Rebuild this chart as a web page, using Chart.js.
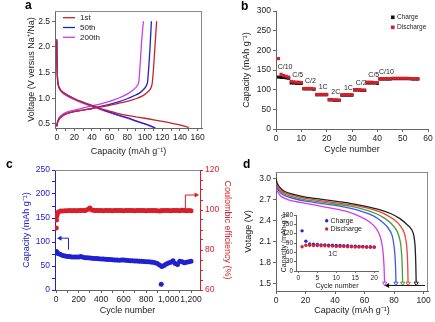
<!DOCTYPE html>
<html>
<head>
<meta charset="utf-8">
<script src="https://cdn.jsdelivr.net/npm/chart.js@4.4.1/dist/chart.umd.min.js"></script>
<style>
  body { margin: 0; width: 435px; height: 322px; background: #fff; position: relative; overflow: hidden; font-family: "Liberation Sans", Arial, sans-serif; }
  canvas { position: absolute; }
  .tag { position: absolute; font-weight: bold; font-size: 12px; line-height: 12px; color: #000; }
</style>
</head>
<body>
<canvas id="chartA" width="215" height="160" style="left:0;top:0"></canvas>
<canvas id="chartB" width="220" height="160" style="left:215px;top:0"></canvas>
<canvas id="chartC" width="240" height="162" style="left:0;top:160px"></canvas>
<canvas id="chartD" width="205" height="162" style="left:230px;top:160px"></canvas>
<canvas id="chartInset" width="115" height="90" style="left:270px;top:205px"></canvas>
<div class="tag" style="left:25px;top:-1px">a</div>
<div class="tag" style="left:241px;top:0px">b</div>
<div class="tag" style="left:6px;top:158px">c</div>
<div class="tag" style="left:243px;top:158px">d</div>
<script>
// ---- a: voltage profiles (capacity, voltage) ----
const aCapDis1 = [0, 0.3, 0.8, 1.5, 3, 6, 12, 20, 30, 40, 50, 60, 70, 80, 90, 100, 110, 120, 130, 140, 150];
const aVDis1   = [2.15, 1.7, 1.4, 1.28, 1.2, 1.13, 1.06, 0.99, 0.92, 0.86, 0.8, 0.75, 0.7, 0.665, 0.635, 0.61, 0.58, 0.55, 0.515, 0.48, 0.43];
const aCapDis50 = [0, 0.3, 0.8, 1.5, 3, 6, 12, 20, 30, 40, 50, 60, 70, 80, 90, 100, 108, 112];
const aVDis50   = [2.12, 1.7, 1.4, 1.28, 1.2, 1.13, 1.06, 0.99, 0.92, 0.855, 0.79, 0.73, 0.67, 0.62, 0.56, 0.5, 0.45, 0.42];
const aCapDis200 = [0, 0.3, 0.8, 1.5, 3, 6, 12, 20, 30, 40, 50, 60, 70, 80, 90, 100, 106, 110];
const aVDis200   = [2.15, 1.7, 1.38, 1.26, 1.18, 1.11, 1.04, 0.97, 0.9, 0.84, 0.78, 0.72, 0.665, 0.61, 0.555, 0.5, 0.46, 0.43];
const aCapChg1 = [0, 0.5, 1.5, 3, 6, 10, 15, 20, 30, 40, 50, 60, 70, 80, 90, 98, 102, 105, 107, 108.5, 110, 111.5, 113.5];
const aVChg1   = [0.45, 0.5, 0.55, 0.6, 0.65, 0.69, 0.72, 0.74, 0.77, 0.8, 0.83, 0.86, 0.9, 0.94, 0.99, 1.05, 1.1, 1.15, 1.2, 1.3, 1.6, 2.0, 2.5];
const aCapChg50 = [0, 0.5, 1.5, 3, 6, 10, 15, 20, 30, 40, 50, 60, 70, 80, 88, 94, 98, 101, 103, 104.5, 106, 107.5];
const aVChg50   = [0.45, 0.5, 0.55, 0.6, 0.65, 0.69, 0.72, 0.74, 0.77, 0.8, 0.84, 0.88, 0.93, 0.99, 1.05, 1.1, 1.16, 1.22, 1.3, 1.6, 2.0, 2.5];
const aCapChg200 = [0, 0.5, 1.5, 3, 6, 10, 15, 20, 30, 40, 50, 60, 70, 80, 86, 90, 93, 94.5, 96, 97.3, 98.5];
const aVChg200   = [0.45, 0.52, 0.58, 0.63, 0.68, 0.72, 0.75, 0.77, 0.81, 0.85, 0.89, 0.94, 1.0, 1.08, 1.15, 1.21, 1.3, 1.6, 2.0, 2.3, 2.5];
const aLegend = ['1st', '50th', '200th'];
const aXTicks = [0, 20, 40, 60, 80, 100, 120, 140, 160];
const aYTicks = [0.5, 1.0, 1.5, 2.0, 2.5];

// ---- b: rate capability, cycles 1..56 ----
const bCharge = [132, 131, 131, 130, 129, 117, 117, 116, 116, 116, 102, 102, 102, 102, 101, 87, 87, 87, 87, 87,
  74, 74, 73, 73, 73, 86, 86, 86, 86, 86, 99, 99, 99, 98, 98, 117, 117, 117, 117, 116,
  127, 127, 127, 127, 127, 128, 128, 128, 128, 128, 128, 128, 128, 127, 127, 127];
const bDischarge = [179, 139, 136, 134, 132, 121, 120, 119, 119, 118, 103, 103, 103, 103, 102, 88, 88, 88, 88, 88,
  75, 75, 74, 74, 73, 87, 87, 87, 87, 87, 100, 100, 100, 99, 99, 119, 119, 119, 118, 118,
  128, 128, 128, 128, 128, 129, 129, 129, 129, 129, 129, 129, 128, 128, 128, 128];
const bRates = ['C/10', 'C/5', 'C/2', '1C', '2C', '1C', 'C/2', 'C/5', 'C/10'];
const bRateStart = [1, 6, 11, 16, 21, 26, 31, 36, 41];
const bXTicks = [0, 10, 20, 30, 40, 50, 60];
const bYTicks = [0, 50, 100, 150, 200, 250, 300];

// ---- c: long cycling ----
const cCycles = [1, 3, 6, 10, 20, 40, 60, 80, 100, 120, 140, 160, 180, 200, 220, 240, 260, 280, 300, 320, 340, 360, 380, 400,
  420, 440, 460, 480, 500, 520, 540, 560, 580, 600, 620, 640, 660, 680, 700, 720, 740, 760, 780, 800, 820, 840, 860, 880,
  900, 920, 935, 940, 960, 980, 1000, 1020, 1040, 1060, 1080, 1100, 1120, 1140, 1160, 1180, 1200];
const cCapacity = [80, 79, 78, 77, 76, 74, 72, 71, 70, 70, 69, 69, 68.5, 69, 70, 68, 67, 67, 66.5, 66, 65.5, 65.5, 65, 64.5,
  64.5, 64, 63.5, 63.5, 63, 62.5, 62.5, 62, 62.5, 62.5, 62, 61.5, 61, 61, 60.5, 60.5, 60, 60, 59.5, 59, 59, 58.5, 58, 57,
  55, 52, 12, 49, 51, 54, 56, 58, 61, 55, 53, 60, 59, 57, 58, 59, 60];
const cEfficiency = [91, 95, 97, 98, 99, 99.5, 99.5, 99.6, 99.6, 99.7, 99.6, 99.7, 99.6, 99.8, 99.7, 99.7, 99.8, 100.2, 101, 100, 99.7, 99.7, 99.8, 99.7,
  99.6, 99.7, 99.8, 99.7, 99.6, 99.7, 99.7, 99.8, 99.7, 99.6, 99.7, 99.8, 99.7, 99.7, 99.6, 99.7, 99.8, 99.7, 99.7, 99.6, 99.7, 99.8, 99.7, 99.7,
  99.6, 99.5, 99.6, 99.6, 99.7, 99.8, 99.7, 99.6, 99.7, 99.8, 99.7, 99.6, 99.9, 99.7, 99.6, 99.7, 99.6];
const cXTicks = [0, 200, 400, 600, 800, 1000, 1200];
const cYTicks = [0, 50, 100, 150, 200, 250];
const cY2Ticks = [60, 80, 100, 120];

// ---- d: discharge curves (capacity, voltage) ----
const dCap1 = [0, 1, 3, 6, 10, 20, 30, 40, 50, 60, 70, 78, 84, 88, 91, 93, 94.2, 94.7, 95];
const dV1   = [3.0, 2.93, 2.87, 2.82, 2.79, 2.74, 2.71, 2.68, 2.65, 2.61, 2.56, 2.5, 2.43, 2.36, 2.3, 2.22, 2.05, 1.8, 1.5];
const dCap2 = [0, 1, 3, 6, 10, 20, 30, 40, 50, 60, 70, 76, 81, 84.5, 87, 88.5, 89.2, 89.5];
const dV2   = [2.97, 2.9, 2.84, 2.8, 2.77, 2.72, 2.69, 2.66, 2.63, 2.59, 2.53, 2.47, 2.4, 2.32, 2.22, 2.05, 1.8, 1.5];
const dCap3 = [0, 1, 3, 6, 10, 20, 30, 40, 50, 60, 68, 74, 78.5, 82, 84.2, 85.2, 85.6, 85.8];
const dV3   = [2.95, 2.88, 2.82, 2.78, 2.75, 2.7, 2.67, 2.64, 2.61, 2.56, 2.5, 2.43, 2.35, 2.25, 2.1, 1.9, 1.7, 1.5];
const dCap4 = [0, 1, 3, 6, 10, 20, 30, 40, 50, 60, 66, 71, 75.5, 78.5, 80.2, 81, 81.3];
const dV4   = [2.93, 2.86, 2.8, 2.76, 2.73, 2.68, 2.65, 2.62, 2.58, 2.52, 2.47, 2.4, 2.31, 2.2, 2.0, 1.75, 1.5];
const dCap5 = [0, 1, 3, 6, 10, 20, 30, 40, 50, 57, 63, 67.5, 70.5, 72.3, 73.2, 73.6];
const dV5   = [2.9, 2.82, 2.76, 2.72, 2.69, 2.65, 2.61, 2.57, 2.52, 2.46, 2.39, 2.3, 2.18, 2.0, 1.75, 1.5];
const dXTicks = [0, 20, 40, 60, 80, 100];
const dYTicks = [1.5, 1.8, 2.1, 2.4, 2.7, 3.0];

// inset: cycles 1..20 at 1C
const insetCharge    = [129, 96, 87, 86, 85, 84, 84, 83, 83, 82, 82, 81, 81, 80, 80, 79, 79, 78, 78, 77];
const insetDischarge = [78, 83, 83, 82, 82, 81, 81, 80, 80, 79, 79, 79, 78, 78, 77, 77, 77, 76, 76, 76];
const insetXTicks = [0, 5, 10, 15, 20];
const insetYTicks = [0, 30, 60, 90, 120, 150, 180];

const FONT = '"Liberation Sans", Arial, sans-serif';
Chart.defaults.font.family = FONT;
Chart.defaults.color = '#222';
Chart.defaults.animation = false;
Chart.defaults.responsive = false;
Chart.defaults.plugins.legend.display = false;
Chart.defaults.plugins.tooltip.enabled = false;

const GRAY = '#8a8a8a';
const AXIS = '#666';

const xy = (xs, ys) => xs.map((x, i) => ({ x: x, y: ys[i] }));

function curve(xs, ys, color) {
    return { data: xy(xs, ys), borderColor: color, backgroundColor: color, borderWidth: 1.3,
        showLine: true, pointRadius: 0, tension: 0.2 };
}

function axis(o) {
    const major = o.ticks;
    const all = (o.minor ? major.concat(o.minor) : major.slice()).sort((p, q) => p - q);
    return {
        type: 'linear', position: o.pos, min: o.min, max: o.max,
        afterBuildTicks: s => { s.ticks = all.map(v => ({ value: v })); },
        afterFit: s => { if (s.isHorizontal()) s.height = o.size; else s.width = o.size; },
        border: { color: o.line || AXIS, width: 1 },
        grid: { drawOnChartArea: false, tickLength: o.tl || 3, color: o.line || AXIS },
        ticks: { color: o.text || '#222', padding: o.pad || 2, autoSkip: false, maxRotation: 0,
            font: { size: o.fs || 8.5 }, callback: v => major.includes(v) ? o.fmt(v) : '' },
        title: { display: true, text: o.title, color: o.text || '#222', padding: 0, font: { size: o.ts || 9 } }
    };
}

function box(color, sides) {
    return {
        id: 'box',
        afterDraw(chart) {
            const { ctx, chartArea: a } = chart;
            ctx.save();
            ctx.strokeStyle = color;
            ctx.lineWidth = 1;
            ctx.beginPath();
            if (sides.includes('top')) { ctx.moveTo(a.left, a.top + 0.5); ctx.lineTo(a.right, a.top + 0.5); }
            if (sides.includes('right')) { ctx.moveTo(a.right - 0.5, a.top); ctx.lineTo(a.right - 0.5, a.bottom); }
            ctx.stroke();
            ctx.restore();
        }
    };
}

function arrowHead(ctx, x, y, dir, color) {
    ctx.fillStyle = color;
    ctx.beginPath();
    ctx.moveTo(x, y);
    ctx.lineTo(x - dir * 4.5, y - 2.5);
    ctx.lineTo(x - dir * 4.5, y + 2.5);
    ctx.closePath();
    ctx.fill();
}

// ================= a =================
const aRed = '#c8232c', aBlue = '#2323c8', aPink = '#c93cf0';
new Chart(document.getElementById('chartA'), {
    type: 'scatter',
    data: {
        datasets: [
            curve(aCapDis1, aVDis1, aRed), curve(aCapChg1, aVChg1, aRed),
            curve(aCapDis50, aVDis50, aBlue), curve(aCapChg50, aVChg50, aBlue),
            curve(aCapDis200, aVDis200, aPink), curve(aCapChg200, aVChg200, aPink)
        ]
    },
    options: {
        layout: { padding: { left: 26, right: 13, top: 11, bottom: 3 }, autoPadding: false },
        scales: {
            x: axis({ pos: 'bottom', min: -2, max: 165, ticks: aXTicks, minor: [10, 30, 50, 70, 90, 110, 130, 150], size: 29,
                fmt: v => String(v), title: 'Capacity (mAh g\u207B\u00B9)' }),
            y: axis({ pos: 'left', min: 0.42, max: 2.7, ticks: aYTicks, size: 29,
                fmt: v => v.toFixed(1), title: 'Voltage (V versus Na\u207A/Na)' })
        }
    },
    plugins: [box(GRAY, ['top', 'right']), {
        id: 'legendA',
        afterDraw(chart) {
            const { ctx, chartArea: a } = chart;
            const colors = [aRed, aBlue, aPink];
            ctx.save();
            ctx.font = '8px ' + FONT;
            ctx.textBaseline = 'middle';
            aLegend.forEach((t, i) => {
                const y = a.top + 6.7 + i * 9.8;
                ctx.strokeStyle = colors[i];
                ctx.lineWidth = 1.3;
                ctx.beginPath(); ctx.moveTo(a.left + 8, y); ctx.lineTo(a.left + 20, y); ctx.stroke();
                ctx.fillStyle = '#222';
                ctx.fillText(t, a.left + 25, y);
            });
            ctx.restore();
        }
    }]
});

// ================= b =================
const bRed = '#d0202a';
new Chart(document.getElementById('chartB'), {
    type: 'scatter',
    data: {
        datasets: [
            { label: 'Charge', data: bCharge.map((v, i) => ({ x: i + 1, y: v })), pointStyle: 'rect',
              pointRadius: 2.2, backgroundColor: '#111', borderColor: '#111', borderWidth: 0, order: 2 },
            { label: 'Discharge', data: bDischarge.map((v, i) => ({ x: i + 1, y: v })), pointStyle: 'rect',
              pointRadius: 2.2, backgroundColor: bRed, borderColor: bRed, borderWidth: 0, order: 1 }
        ]
    },
    options: {
        layout: { padding: { left: 26, right: 7, top: 11, bottom: 5 }, autoPadding: false },
        scales: {
            x: axis({ pos: 'bottom', min: 0, max: 60, ticks: bXTicks, size: 26, fmt: v => String(v), title: 'Cycle number' }),
            y: axis({ pos: 'left', min: 0, max: 300, ticks: bYTicks, size: 35, fmt: v => String(v), title: 'Capacity (mAh g\u207B\u00B9)' })
        }
    },
    plugins: [{
        id: 'notesB',
        afterDraw(chart) {
            const { ctx, chartArea: a, scales: { x, y } } = chart;
            ctx.save();
            ctx.font = '7px ' + FONT;
            ctx.textAlign = 'center';
            ctx.textBaseline = 'middle';
            ctx.fillStyle = '#222';
            bRates.forEach((t, i) => {
                const s = bRateStart[i];
                ctx.fillText(t, x.getPixelForValue(s + 2.6), y.getPixelForValue(bDischarge[s]) - 7);
            });
            // legend
            ctx.textAlign = 'left';
            ctx.font = '6.5px ' + FONT;
            [['Charge', '#111'], ['Discharge', bRed]].forEach(([t, c], i) => {
                const cy = a.top + 6.3 + i * 10;
                ctx.fillStyle = c;
                ctx.fillRect(a.right - 37, cy - 1.8, 3.6, 3.6);
                ctx.fillStyle = '#222';
                ctx.fillText(t, a.right - 31, cy);
            });
            ctx.restore();
        }
    }]
});

// ================= c =================
const cBlue = '#2020d0', cRed = '#d81e28';
new Chart(document.getElementById('chartC'), {
    type: 'scatter',
    data: {
        datasets: [
            { data: xy(cCycles, cEfficiency), yAxisID: 'yR', pointRadius: 2.5, backgroundColor: cRed, borderColor: cRed, borderWidth: 0 },
            { data: xy(cCycles, cCapacity), yAxisID: 'yL', pointRadius: 2.5, backgroundColor: cBlue, borderColor: cBlue, borderWidth: 0 }
        ]
    },
    options: {
        layout: { padding: { left: 21, right: 7, top: 10, bottom: 6 }, autoPadding: false },
        scales: {
            x: axis({ pos: 'bottom', min: -10, max: 1280, ticks: cXTicks, minor: [100, 300, 500, 700, 900, 1100], size: 26,
                fmt: v => v.toLocaleString('en-US'), title: 'Cycle number' }),
            yL: axis({ pos: 'left', min: 0, max: 250, ticks: cYTicks, minor: [25, 75, 125, 175, 225], size: 34, line: cBlue, text: cBlue,
                fmt: v => String(v), title: 'Capacity (mAh g\u207B\u00B9)' }),
            yR: axis({ pos: 'right', min: 60, max: 120, ticks: cY2Ticks, minor: [65, 70, 75, 85, 90, 95, 105, 110, 115], size: 33, line: cRed, text: cRed,
                fmt: v => String(v), title: 'Coulombic efficiency (%)' })
        }
    },
    plugins: [box(GRAY, ['top']), {
        id: 'arrowsC',
        afterDatasetsDraw(chart) {
            const { ctx, scales: { x, yL, yR } } = chart;
            ctx.save();
            ctx.lineWidth = 1;
            // capacity -> left axis
            let x0 = x.getPixelForValue(110), x1 = x.getPixelForValue(8);
            let yTop = yL.getPixelForValue(108), yBot = yL.getPixelForValue(84);
            ctx.strokeStyle = cBlue;
            ctx.beginPath(); ctx.moveTo(x0, yBot); ctx.lineTo(x0, yTop); ctx.lineTo(x1 + 3, yTop); ctx.stroke();
            arrowHead(ctx, x1, yTop, -1, cBlue);
            // efficiency -> right axis
            x0 = x.getPixelForValue(1150); x1 = x.getPixelForValue(1272);
            yBot = yR.getPixelForValue(100.5); yTop = yR.getPixelForValue(107.5);
            ctx.strokeStyle = cRed;
            ctx.beginPath(); ctx.moveTo(x0, yBot); ctx.lineTo(x0, yTop); ctx.lineTo(x1 - 3, yTop); ctx.stroke();
            arrowHead(ctx, x1, yTop, 1, cRed);
            ctx.restore();
        }
    }]
});

// ================= d =================
const dColors = ['#222222', '#e8483a', '#4c9a3c', '#3c5ae8', '#d23ce6'];
const dSets = [[dCap1, dV1], [dCap2, dV2], [dCap3, dV3], [dCap4, dV4], [dCap5, dV5]].map(([c, v], k) => {
    const ds = curve(c, v, dColors[k]);
    ds.pointStyle = 'triangle';
    ds.rotation = 180;
    ds.pointRadius = ctx => ctx.dataIndex === c.length - 1 ? 2.4 : 0;
    ds.pointBackgroundColor = '#fff';
    ds.pointBorderColor = dColors[k];
    ds.pointBorderWidth = 1;
    return ds;
});
new Chart(document.getElementById('chartD'), {
    type: 'scatter',
    data: { datasets: dSets },
    options: {
        layout: { padding: { left: 13, right: 7, top: 12, bottom: 6 }, autoPadding: false },
        scales: {
            x: axis({ pos: 'bottom', min: 0, max: 103, ticks: dXTicks, size: 25, fmt: v => String(v), title: 'Capacity (mAh g\u207B\u00B9)' }),
            y: axis({ pos: 'left', min: 1.39, max: 3.1, ticks: dYTicks, size: 33, fmt: v => v.toFixed(1), title: 'Votage (V)' })
        }
    },
    plugins: [box(GRAY, ['top', 'right']), {
        id: 'arrowD',
        afterDatasetsDraw(chart) {
            const { ctx, scales: { x, y } } = chart;
            const yy = y.getPixelForValue(1.47);
            const xs = x.getPixelForValue(dCap5[dCap5.length - 1]);
            ctx.save();
            ctx.strokeStyle = '#111';
            ctx.lineWidth = 1;
            ctx.beginPath(); ctx.moveTo(x.getPixelForValue(101), yy); ctx.lineTo(xs + 3, yy); ctx.stroke();
            arrowHead(ctx, xs, yy, -1, '#111');
            ctx.restore();
        }
    }]
});

// inset
const iBlue = '#2424d8', iRed = '#d8202c';
new Chart(document.getElementById('chartInset'), {
    type: 'scatter',
    data: {
        datasets: [
            { data: insetDischarge.map((v, i) => ({ x: i + 1, y: v })), pointRadius: 1.7, backgroundColor: iRed, borderWidth: 0 },
            { data: insetCharge.map((v, i) => ({ x: i + 1, y: v })), pointRadius: 1.7, backgroundColor: iBlue, borderWidth: 0 }
        ]
    },
    options: {
        layout: { padding: { left: 10, right: 7, top: 10, bottom: 5 }, autoPadding: false },
        scales: {
            x: axis({ pos: 'bottom', min: -0.6, max: 21, ticks: insetXTicks, size: 19, fs: 6.5, ts: 7, tl: 2, pad: 1,
                fmt: v => String(v), title: 'Cycle number' }),
            y: axis({ pos: 'left', min: 0, max: 180, ticks: insetYTicks, size: 16, fs: 6.5, ts: 7, tl: 2, pad: 1,
                fmt: v => String(v), title: 'Capacity (mAh g\u207B\u00B9)' })
        }
    },
    plugins: [{
        id: 'notesInset',
        afterDraw(chart) {
            const { ctx, chartArea: a, scales: { x, y } } = chart;
            ctx.save();
            ctx.font = '7px ' + FONT;
            ctx.textBaseline = 'middle';
            [['Charge', iBlue], ['Discharge', iRed]].forEach(([t, c], i) => {
                const cy = a.top + 5.7 + i * 8.3;
                ctx.fillStyle = c;
                ctx.beginPath(); ctx.arc(a.left + 30.7, cy, 1.7, 0, Math.PI * 2); ctx.fill();
                ctx.fillStyle = '#222';
                ctx.fillText(t, a.left + 34.5, cy);
            });
            ctx.textAlign = 'center';
            ctx.fillText('1C', x.getPixelForValue(9.1), y.getPixelForValue(insetDischarge[8]) + 7.5);
            ctx.restore();
        }
    }]
});
</script>
</body>
</html>
